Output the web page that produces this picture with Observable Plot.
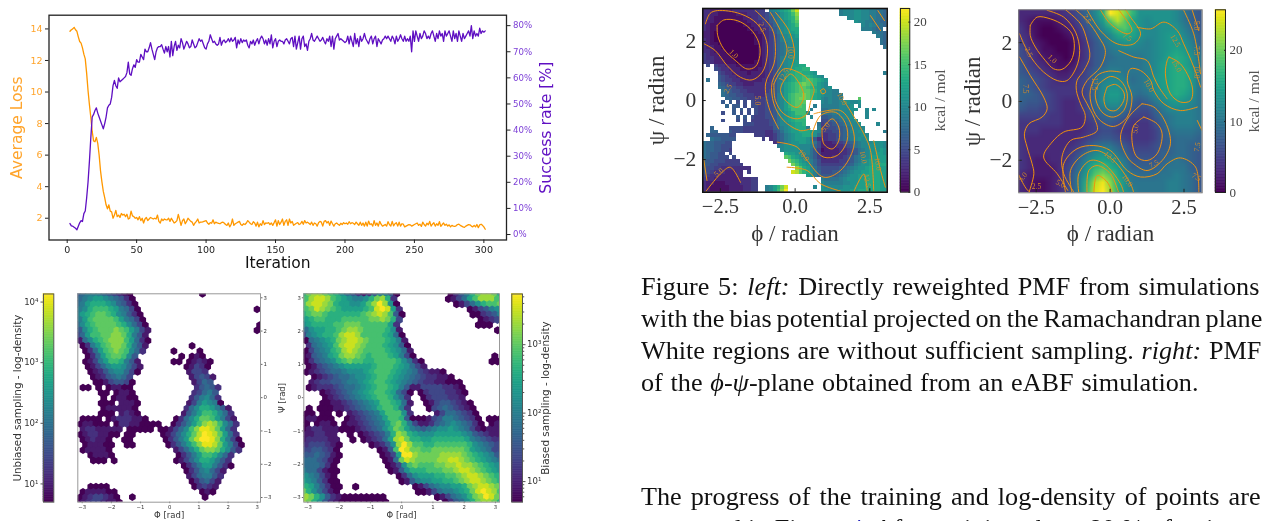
<!DOCTYPE html>
<html><head><meta charset="utf-8">
<script src="https://cdn.jsdelivr.net/npm/d3@7"></script>
<script src="https://cdn.jsdelivr.net/npm/@observablehq/plot@0.6"></script>
<style>
html,body{margin:0;padding:0;background:#fff}
#page{position:relative;width:1262px;height:521px;overflow:hidden;background:#fff;filter:blur(.35px)}
#page svg{position:absolute;max-width:none;background:transparent;overflow:visible}
#page g[aria-label="axis-title"] text{letter-spacing:1.4px}
.cap{position:absolute;left:641px;font:26.2px/32px "Liberation Serif",serif;color:#111;white-space:nowrap}
.cap a{color:#2222bb}
</style></head><body><div id="page"></div>
<script>
// ---------- training curves (iteration 2 .. 301) ----------
const lossValues = [
13.85,13.95,14.0,14.1,13.95,13.85,13.5,13.2,13.1,12.8,
12.4,12.1,11.2,10.1,9.2,8.4,7.5,6.9,6.85,7.12,
6.75,6.0,5.0,4.3,3.7,3.3,2.85,2.6,2.85,2.45,
2.4,2.0,2.2,2.5,2.1,2.2,2.05,2.3,2.2,2.25,
2.1,2.25,1.95,2.0,2.45,2.15,2.1,2.0,2.05,1.9,
2.1,1.85,2.0,1.7,1.95,2.05,1.85,1.95,2.05,2.0,
1.95,2.0,1.95,2.2,1.8,1.7,1.95,1.85,1.95,1.9,
1.9,2.0,1.8,2.0,1.85,1.7,1.75,1.85,2.25,1.9,
1.55,1.85,1.95,1.65,1.8,2.0,1.9,1.8,1.75,1.55,1.7,1.8,1.95,1.7,1.75,
1.75,1.78,1.82,1.85,1.7,1.62,1.72,1.68,1.9,1.65,1.75,1.7,1.68,1.65,1.72,
1.75,1.7,1.6,1.55,1.7,1.45,1.6,1.95,1.55,1.65,1.7,1.75,1.8,1.6,1.55,1.65,1.6,1.7,1.85,1.75,
1.65,1.6,1.78,1.7,1.5,1.75,1.45,1.65,1.55,1.85,1.6,1.7,1.68,1.72,1.6,1.7,1.55,1.72,1.9,1.5,
1.85,1.6,1.75,1.95,1.55,1.8,1.9,1.55,1.95,1.7,1.8,1.55,1.62,1.68,1.72,1.6,1.65,1.8,1.62,1.85,
1.7,1.75,1.68,1.6,1.75,1.55,1.7,1.65,1.5,1.72,1.8,1.75,1.5,1.8,1.85,1.7,1.8,1.55,1.82,1.65,
1.5,1.65,1.7,1.62,1.55,1.68,1.6,1.72,1.65,1.7,1.62,1.78,1.65,1.72,1.68,1.6,1.75,1.65,1.55,1.75,
1.55,1.7,1.5,1.75,1.5,1.82,1.6,1.65,1.5,1.85,1.55,1.7,1.5,1.8,1.62,1.5,1.55,1.6,1.5,1.78,
1.6,1.5,1.8,1.52,1.65,1.72,1.5,1.75,1.5,1.65,1.62,1.45,1.5,1.55,1.6,1.58,1.5,1.55,1.6,1.65,
1.7,1.55,1.62,1.48,1.75,1.6,1.5,1.68,1.58,1.8,1.5,1.62,1.72,1.5,1.65,1.55,1.78,1.48,1.6,1.7,
1.55,1.62,1.5,1.58,1.45,1.55,1.5,1.48,1.52,1.6,1.62,1.55,1.5,1.45,1.42,1.5,1.55,1.6,1.58,1.5,1.45,
1.55,1.45,1.6,1.4,1.58,1.62,1.55,1.45,1.3];
const successValues = [
4.2,3.3,3.2,2.8,2.4,1.8,3.2,4.5,5.3,5.0,
8.0,9.0,14,20,28,37,45,46,47.5,48.5,
46.5,45,43.5,42,40.5,42.5,45,48.5,49.5,50,
52.5,57,59,57,56,60,58.5,59,59.5,60,
60.5,62,66,61.5,61,63.5,65,64,67,66,
66,69,68,67,71,70,70,71.5,73.5,71,
69,67,70,71.5,72,72,72.7,71,69.5,72,
70,72,68,74,68.5,72,74,70.5,72.5,71.5,
75,73.5,71,72.5,74,73,71.5,72,74.5,73,71.5,72,73.5,75,74,
74.5,73,71.5,71,73,74,76.5,75,73.5,74,73,72.5,73,75.5,72.5,
74,74.5,73.5,74,75,73.8,75.3,74,74.5,75.5,71.5,74.5,73,75,73.5,74.5,74,74.5,72.5,71.5,
74,73,74.5,72.5,74,75,73,75,76,75,73,74.5,72.5,75,73,76.5,71.5,74,75,72,
74,74.5,74,74,73,74.5,75,74,73,75,75.5,72,76,71,73.5,76,71,75,76,72,
73,70.5,74,75,77,74.5,74,75,76,75,74,74.5,75.5,74,73,75,74,76,72,76,
71,75,76,77,74.5,75,74.5,74,73.5,74,76,73,76,74,72,77,73,75,72,76,
74,75,77,75,74,73,75,76,73,75,76,72,75,74,73,74.5,75,76,75,76,
75,74,76,75,73,76,74,75,
76.5,75,74,76,74,75,74,76,70,78,74,78,76,74,77,75,76,78,77,75,
76,75,77,78,76,74,77,75,78,76,77,74,78,76,77,
78,76,74,78,75,77,74,78,76,74,77,75,76,77,78,76,80,75,78,76,77,76,79,77,78,77.5,78];
const iterationTicks = [0,50,100,150,200,250,300];
const lossTicks = [2,4,6,8,10,12,14];
const successTicks = [0,10,20,30,40,50,60,70,80];

// ---------- hexbin log-density, rows top to bottom, '.' = empty bin ----------
const unbiasedRows = [
"45666543210.............0...........",
"56788765420.........................",
"568999875420........................",
"679aaa986530......................0.",
"689abba976420.......................",
"68abbbba86530.......................",
"579abbbba97530.....................0",
"479abbbcba8631....................0.",
"358aabbccb9641......................",
"1579abccca8520......................",
".0268abccb9641........0.............",
".0258abcba752.....0....0............",
"..0258abba74........0.010...........",
".01368aa9641......00.01210..........",
"..01357887531........01320..........",
"..0124677530.........1332...........",
"...01245653...........13431.........",
"...00134430...........1354..........",
".00.0.01100............24542........",
"....00.0110...........23564.........",
".....0.01100..........246752........",
"....000.1110.........1368760........",
".....0111110.........257998641......",
"....000.1210........1468aa9752......",
".0000.01222110.....02579bba8631.....",
"011000.022110000..02468acdca752.....",
".12211111.00000.001357aceedb852.....",
"01221100.00.....013579bdfedb852.....",
".012110..00......02468bdffec9630....",
".011100..00......02468aceedb8630....",
".011110............13579bccb9742....",
"..01110............02468aa9752......",
"...000.0...........01357998642......",
"....................0246886420......",
".....................02467531.......",
".....................1356642........",
"......................024531........",
"..0000................02321.........",
".0111100................010.........",
"01233210..0.............0...........",
"012332110..........................."];
const biasedRows = [
"9bccba975421246640.........02469bccb8",
"acddca9876679bc92.........01358accca",
"acddcb988778acec70..........013579aab",
"abdcba988889aded82............013467",
"9abba999999abcdca40............002346",
"89aa999aaaaabbcb93..............0123",
"789999aabbbaaaaa82..............000..",
"578899abccbaaaa971.................0",
"367899acddcaaaa9850",
"056789bcddcbaaa9861",
".25678acddcbaaa98740",
"035679acdcbaaaa98751",
"0145689bccba9aaa98630..............0.",
"0245679abaa99aaaa97520............00",
".0134567888889aaa987531",
"0123455677789aaa9876532110",
"..012345567789aa987654322110",
".123344566789aa98765432211000",
".0122234556789aa98641133332210",
"...0123456789aa98530.023332210",
"....0123456789aa9752..02333221",
"...00112345678aa9851..013443210",
".0.000112345679aa962...034543210",
"00.00.0.1234568aaa72....13554320",
"011000..01234568aa940001346654320.000",
"0.0110.011234568ab963112456765420.01",
"01221110001234579ba865456778765310111",
"112211..0.0123469cb98777888887643211",
"1222211..0.012358cdb99889999998654322",
"2333210.....01247cecaa99aaaaaa976543",
"3344320.......014afdbbaabbbbbba876533",
"4454310.......0138eecbbbbccccba98764",
"5554310........015bdcbbbbccddcba98765",
"555420.........0137abaaabbccdccba987",
"6553100.........0147999aaabbcddcba987",
"765310...........025788899aabcddcba9",
"8764200...........0146778899abcddcba9",
"9864200..0..........0135677889bcddcb",
"b975310..............0013566789bdedca",
"cb9742100000000.........0135679bcedb",
"cb97421000000000..........024579bccb9"];
const phiTicks = [-3,-2,-1,0,1,2,3];
const psiTicks = [-3,-2,-1,0,1,2,3];
const unbiasedDensityDomain = [5,13600];
const biasedDensityDomain = [5,5500];

// ---------- PMF (kcal/mol, base-36 integer per cell, '.' = no sampling) ----------
const pmfLeftRows = [
"33222222333333444.9abcdehk...........9aaabbaa99887",
"332211111222333445789bcdfi...........9aaabbaa99887",
"332111111112233445689bcdeh.............aabbaa99887",
"322110000111223344679abceg...............baa998877",
"321100000001122334579abcdf.................a9a9887",
"321100000000112233568abcdd.................999878",
"221000000000011223468abccd....................9887",
"2210000000000011234579abbc.....................987",
"3210000000000011234579aabb......................87",
"32110000000000112345789aab......................87",
"32211000000000012345789aab.......................8",
"33211100000000012345789aab........................",
"43221110000000012345789aab........................",
"4332211100000001234579aabb........................",
"4432221110000011234579abbc........................",
".5.4332221111111234579abccdd......................",
"...5433222111112234579abcddee.....................",
"....543322221222234589bcdeeddcb..................9",
"....654332222222234589bcdeefedcba.................",
".8..654433222222334689bcdeefgfedcb................",
"....76544332223334468acdefghgfecba................",
"....87655443333334468acdefggfedcbab...............",
".....8765544333334568acdefgggfecbaa99.............",
".....8766554443335569acefgghgfdcbaa999............",
"......776655444445569acefghhgfdca9a999....g.......",
".....6.6.5.5.54445569acefggg....a9a99abbaab.......",
"......7.66.5.55445569acefggf..9.99999aaab.a.......",
"........6.6.5.5445569acdffff.9..88999aaabb..a.a...",
".....5..6.5.5.5445569abcdfffa...88899aaab...a.....",
".........6.6.54445568abcdeef.a..667889aab...a.....",
".....5...5.5.44444568abcdeee....55677899ab........",
"...........5554444568aabcdde...845566789aab....a..",
"..7....555544444444679abcddd9..9445566789aaa......",
"..77...655544444433568abccdddcba44455678aabb.....9",
".76666655.....444334679abccddcb8334456789aaba.....",
"..8776666.......4.34679abcccb963334456789abab.....",
"87766655...........3579abbccba8522234456789aaabbba",
"87766555............9abbbbaaa97522223345689aabbbba",
"87766554.............abbbbaaa864122223345689abbbcb",
"876655.5..............dccbbaa864222223345689abbccb",
"8766555.5.............gfdcba986432233345689aabcccc",
"7665554444.............hfecba97533333445689abccccc",
"76554444444.............hfdcb9754444445679abbcdddd",
"7554433333333............igdca86555556789abbcdddcc",
"65433322233.4...........kjgedb9755566789abbccdddcc",
"54332222233.................cb976666789abbccddddcc",
"433222222233344.................988889abbbccddddcc",
"322111222233344.................a99999aabbccddddcc",
"321111122223344..9acehk.......a.baaaaabbbcccddddcc",
"321111122223344..9acfim.........bbaaabbbccddddddcc"];
const pmfRightRows = [
"3333334579cgqolhdddddca87",
"3211123468bejnjfdcdddca87",
"42100123579cfijgdccdddb97",
"43100012468acfgfdccdeeca8",
"532100013579bcddcbcdeedb8",
"643110013578abbbbbcdefec9",
"6532110135789aaaabcdfgfda",
"754321124578aaaaabcefgfda",
"76543223468abbaaabcefggea",
"87654334569bccb9abdefggea",
"87654444569cddcaabcefggea",
"88765444469ceeca9acdfgfda",
"87765433469cddb878acdedca",
"76655433468abb97668acccba",
"55554433357898755579abbba",
"44444433345776544468abbba",
"444333333456654444579aaa9",
"4333333345677654445789998",
"43333334579aa875556789988",
"433333457acdca86666889987",
"432233469cefeca777789a987",
"43222357aehigeb88889aaa87",
"32222358bfjljfca999aaba97",
"32112358chnplgdaaaaabba97",
"32112358cioqmgdbaaaabba97"];
const pmfTicksX = [-2.5,0,2.5];
const pmfTicksY = [-2,0,2];
const leftBarTicks = [0,5,10,15,20];
const rightBarTicks = [0,10,20];

// contour polylines [phi, psi]
const contoursLeft = [
[[-2.61,2.54],[-2.39,2.73],[-1.94,2.71],[-1.5,2.43],[-1.22,1.98],[-1.18,1.53],[-1.33,1.15],[-1.61,1.07],[-2,1.36],[-2.39,1.75],[-2.59,2.2],[-2.61,2.54]],
[[-3,2.6],[-2.85,2.95],[-2.6,3.05],[-1.83,2.94],[-1.27,2.6],[-.96,2.03],[-.94,1.47],[-1.1,.96],[-1.44,.7],[-1.83,.79],[-2.28,1.19],[-2.67,1.69],[-3.04,1.92]],
[[-1.33,3.05],[-.77,2.43],[-.66,1.81],[-.71,1.24],[-.99,.56],[-.88,-.23],[-.55,-.96]],
[[-.83,2.99],[-.49,2.37],[-.27,1.69],[-.44,1.24],[-.77,.62],[-.71,-.11],[-.38,-.68],[.18,-1.02],[.51,-.96]],
[[-.71,.56],[-.38,1.07],[.29,.85],[.63,.4],[.51,-.06],[.4,-.45],[.07,-.62],[-.38,-.45],[-.66,0],[-.71,.56]],
[[-.44,.56],[-.16,.9],[.18,.51],[.29,.11],[.07,-.23],[-.32,0],[-.49,.34],[-.44,.56]],
[[.9,-.96],[1.24,-.62],[1.46,-.9],[1.46,-1.36],[1.24,-1.64],[.96,-1.47],[.9,-.96]],
[[.57,-1.13],[.85,-.51],[1.35,-.4],[1.69,-.79],[1.74,-1.36],[1.41,-1.86],[.96,-1.92],[.63,-1.58],[.57,-1.13]],
[[-.6,-1.41],[.07,-1.58],[.4,-2.03],[.96,-2.6],[1.52,-2.37],[1.96,-1.58],[1.91,-.9],[1.52,-.34],[.63,-.45]],
[[1.63,0],[2.3,-1.13],[2.52,-1.69],[2.63,-3.05]],
[[2.63,-1.36],[2.86,-2.37],[3.02,-2.94]],
[[-.27,-2.26],[.4,-2.37],[.85,-2.82],[1.52,-3.07]],
[[1.96,-3.1],[2.3,-2.49],[2.41,-3.05]],
[[-3,-3.1],[-2.5,-2.49],[-2.17,-2.26],[-1.83,-2.77]],
[[-3.06,-1.98],[-2.95,-2.71]],
[[2.52,2.88],[2.86,2.37]],
[[2.77,3.05],[2.99,2.71]],
[[-.66,2.99],[-.21,2.37],[-.02,1.58],[-.16,1.02]],
[[.85,.34],[.96,.4],[1.02,.28],[.9,.23],[.85,.34]]];
const contoursRight = [
[[-2.7,2.59],[-2.47,2.87],[-2.02,2.81],[-1.57,2.59],[-1.29,2.3],[-1.21,1.85],[-1.32,1.39],[-1.63,1.09],[-1.91,1.11],[-2.19,1.39],[-2.53,1.85],[-2.7,2.24],[-2.7,2.59]],
[[-2.13,3.1],[-1.57,2.87],[-1.17,2.36],[-1.03,1.73],[-1.14,1.17],[-1.46,.71],[-1.79,.71],[-2.25,1],[-2.64,1.45],[-2.92,1.96],[-3.06,2.3]],
[[-1.51,3.12],[-1,2.64],[-.78,2.07],[-.69,1.51],[-.89,1.05],[-1.12,.71],[-1.14,.37],[-1,-.08],[-.84,-.48],[-.95,-.87],[-1.57,-1.04],[-1.96,-1.38],[-2.25,-1.89],[-1.79,-2.46],[-1.43,-3.03]],
[[-1.17,3.12],[-.78,2.76],[-.38,2.19],[-.16,1.73],[-.33,1.17],[-.78,.71],[-.95,.32],[-.78,-.08],[-.55,-.53],[-.44,-.99],[-.89,-1.21],[-1.34,-1.33],[-1.63,-1.89],[-1.57,-2.46],[-1.23,-3.08]],
[[2.95,-.19],[2.38,-.31],[1.82,-.08],[1.48,.37],[1.37,.71],[1.03,1.05],[.69,1.11],[.58,.71],[.74,.15],[.58,-.53],[.12,-.85],[-.33,-.65],[-.61,-.19],[-.67,.37],[-.44,.88],[-.05,1.03],[.35,1]],
[[-.1,.49],[.18,.58],[.46,.32],[.46,.03],[.18,-.31],[-.1,-.25],[-.21,.09],[-.1,.49]],
[[-.38,.6],[.01,.85],[.35,.71],[.58,.26],[.46,-.31],[.12,-.53],[-.21,-.42],[-.44,-.08],[-.5,.32],[-.38,.6]],
[[1.99,1.51],[2.38,1.28],[2.78,.49],[2.72,.03],[2.38,-.02],[2.04,.26],[1.87,.94],[1.93,1.39],[1.99,1.51]],
[[.29,1.73],[.8,1.51],[1.25,1.39],[1.48,.83],[1.65,.49],[1.93,.09]],
[[.91,2.53],[1.37,2.47],[1.82,2.7],[2.27,2.41],[2.49,1.96],[2.83,1.17],[3.06,.49]],
[[-.78,3.12],[-.33,2.41],[.24,1.96],[.8,1.96],[1.03,2.3],[.69,2.87],[.52,3.12]],
[[-.33,3.12],[.01,2.64],[.58,2.3],[.74,2.41],[.35,3.04],[.29,3.12]],
[[-1.51,-3.08],[-1.57,-2.12],[-1.12,-1.61],[-.55,-1.5],[.01,-1.67],[.58,-2.35],[1.03,-2.57],[1.59,-2.46],[1.93,-2.12],[2.38,-1.92],[2.89,-2.23],[3,-3.08]],
[[-1.29,-3.11],[-1.34,-2.35],[-.95,-1.84],[-.44,-1.67],[.12,-2.01],[.69,-2.8],[.8,-3.11]],
[[-1.06,-3.11],[-1.06,-2.46],[-.67,-2.01],[-.21,-2.12],[.35,-2.8],[.46,-3.11]],
[[-.78,-3.11],[-.72,-2.35],[-.44,-2.18],[.01,-2.46],[.29,-3.11]],
[[-.55,-3.11],[-.44,-2.52],[-.1,-2.74],[.07,-3.11]],
[[1.14,-.53],[1.59,-.76],[1.76,-1.1],[1.59,-1.78],[1.25,-2.01],[.91,-1.89],[.74,-1.33],[.8,-.82],[1.14,-.53]],
[[1.08,-.08],[.63,-.53],[.35,-1.21],[.58,-1.89],[.8,-2.12],[1.25,-2.35],[1.76,-2.01],[2.04,-1.44],[1.87,-.7],[1.48,-.19],[1.08,-.08]],
[[-3.06,1.51],[-2.7,.88],[-2.25,.15],[-2.13,-.25],[-2.3,-.53],[-2.75,-.76],[-2.9,-1.1],[-2.81,-1.55],[-2.64,-2.12],[-2.58,-2.46],[-2.75,-3.11]],
[[-3.09,-2.5],[-2.85,-2.95],[-2.7,-3.11]],
[[2.49,3.1],[2.83,2.3],[3.06,.94]],
[[2.78,3.1],[3,2.41]],
[[2.95,-.65],[3.11,-.99]]];
const contourLabelsLeft = [
["1.0",-2.05,1.58,45],["2.5",-1.1,2.49,70],["5.0",-1.27,0,90],["10.0",-.16,1.64,90],["12.5",-.38,.85,-60],
["5.0",1.02,-.9,-50],["10.0",1.57,.06,60],["10.0",2.28,-1.92,80],["10.0",2.77,-2.15,80],["12.5",2.41,-2.71,80],
["10.0",.29,-1.86,50],["5.0",-2.56,-2.43,-40],["2.5",-2.25,.4,-60]];
const contourLabelsRight = [
["1.0",-1.96,1.45,45],["2.5",-2.75,1.68,65],["7.5",-2.87,.43,90],["12.5",-.53,.6,90],["10.0",1.31,.54,60],
["5.0",.86,-.93,-80],["15.0",2.25,1.22,60],["12.5",2.21,2.07,60],["7.5",1.48,-2.12,-30],["7.5",2.92,1.73,90],
["5.0",2.92,2.58,90],["7.5",2.95,-1.55,-80],["7.5",2.92,-2.57,30],["5.0",-1.68,-2.8,30],["2.5",-2.49,-2.89,0],
["5.0",-2.95,-2.57,-50],["10.0",.58,-2.69,55],["12.5",0,-1.89,40],["7.5",.58,2.19,30],["10.0",2.92,1,90],["2.5",-.78,2.81,60]];

// ---------- helpers ----------
const page = document.getElementById("page");
const put = (svg,left,top)=>{svg.style.left=left+"px";svg.style.top=top+"px";page.append(svg);};
const SANS = '"DejaVu Sans",sans-serif', SERIF='"Liberation Serif",serif';
const ORANGE="#ff9800", ORANGE_T="#ffa42b", PURPLE="#5f0fc2", PURPLE_T="#7c3fd6";
const base36 = c => parseInt(c,36);

function hexCells(rows,cols,phi0,dPhi,psi0,dPsi,step){
  const out=[];
  rows.forEach((row,k)=>{[...row.padEnd(cols,".").slice(0,cols)].forEach((c,j)=>{
    if(c===".")return;
    out.push({phi:phi0+(j+(k%2?.5:0))*dPhi,psi:psi0-k*dPsi,density:5*Math.pow(10,base36(c)*step)});
  });});
  return out;
}
function gridValues(rows,n){
  const out=[];
  rows.forEach(r=>{[...r.padEnd(n,".").slice(0,n)].forEach(c=>out.push(c==="."?NaN:base36(c)));});
  return out;
}
const midText=(s,o)=>Plot.text([s],{text:d=>d,textAnchor:"middle",...o});
function colorbar(o){
  const [d0,d1]=o.domain, N=120;
  const lev=d3.range(N+1).map(i=>o.log?d0*Math.pow(d1/d0,i/N):d0+(d1-d0)*i/N);
  const bands=lev.slice(0,-1).map((v,i)=>({a:v,b:lev[i+1]}));
  return Plot.plot({
    width:o.w+o.ml+o.mr,height:o.h+o.mt+o.mb,marginLeft:o.ml,marginRight:o.mr,marginTop:o.mt,marginBottom:o.mb,
    style:{background:"transparent",overflow:"visible"},
    x:{domain:[0,1],axis:null},
    y:{type:o.log?"log":"linear",domain:o.domain,axis:null},
    color:{type:o.log?"log":"linear",domain:o.domain,scheme:"viridis"},
    marks:[
      Plot.rect(bands,{x1:0,x2:1,y1:"a",y2:"b",fill:"a",stroke:"a",strokeWidth:.6}),
      Plot.axisY(o.ticks,{anchor:o.anchor,tickSize:o.tick,tickPadding:o.pad,label:null,fontSize:o.fs,fontFamily:o.font,fill:o.tc||"#333",stroke:o.fc||"#333",tickFormat:o.fmt}),
      ...(o.minor?[Plot.axisY(o.minor,{anchor:o.anchor,tickSize:o.tick/2,label:null,stroke:o.fc||"#333",tickFormat:()=>""})]:[]),
      Plot.frame({stroke:o.fc||"#333",strokeWidth:o.fw||1}),
      midText(o.label,{frameAnchor:o.anchor,rotate:-90,dx:o.dx,fontFamily:o.font,fontSize:o.lfs,fill:o.lc||"#333"})
    ]});
}
const sup = k => "10"+"⁰¹²³⁴⁵⁶⁷⁸⁹"[k];
const decadeMinor=(lo,hi)=>{const m=[];for(let e=0;e<5;e++)for(let k=2;k<10;k++){const v=k*10**e;if(v>lo&&v<hi)m.push(v);}return m;};

// ---------- A: training curves ----------
const lossData = lossValues.map((v,i)=>({it:i+2,v}));
const succData = successValues.map((v,i)=>({it:i+2,v}));
const A = {width:570,height:280,marginLeft:48.5,marginRight:64,marginTop:14.7,marginBottom:40.5,style:{background:"transparent",overflow:"visible"},
  x:{domain:[-13.1,316.3],axis:null}};
put(Plot.plot({...A,y:{domain:[.62,14.87],axis:null},marks:[
  Plot.line(lossData,{x:"it",y:"v",stroke:ORANGE,strokeWidth:1.3}),
  Plot.axisX(iterationTicks,{label:null,tickSize:3.5,tickPadding:3,fontFamily:SANS,fontSize:9.5,fill:"#222",stroke:"#222"}),
  Plot.axisY(lossTicks,{label:null,tickSize:3.5,tickPadding:3,fontFamily:SANS,fontSize:9.5,fill:ORANGE_T,stroke:"#222"}),
  midText("Average Loss",{frameAnchor:"left",rotate:-90,dx:-31.5,fontFamily:SANS,fontSize:15.5,fill:ORANGE_T}),
  midText("Iteration",{frameAnchor:"bottom",dy:27.5,fontFamily:SANS,fontSize:15.5,fill:"#111"})
]}),0,0);
put(Plot.plot({...A,y:{domain:[-2.1,84],axis:null},marks:[
  Plot.line(succData,{x:"it",y:"v",stroke:PURPLE,strokeWidth:1.3}),
  Plot.axisY(successTicks,{anchor:"right",label:null,tickSize:3.5,tickPadding:3,fontFamily:SANS,fontSize:8.6,fill:PURPLE_T,stroke:"#222",tickFormat:d=>d+"%"}),
  Plot.frame({stroke:"#222",strokeWidth:1.3}),
  midText("Success rate [%]",{frameAnchor:"right",rotate:-90,dx:39,fontFamily:SANS,fontSize:15.7,fill:PURPLE})
]}),0,0);

// ---------- C: unbiased hexbin ----------
const hexTick = {label:null,tickSize:1.5,tickPadding:1.5,fontFamily:SANS,fontSize:5.4,fill:"#333",stroke:"#666"};
put(Plot.plot({width:182.7+77.3+30,height:208.4+293.3+20,marginLeft:77.3,marginRight:30,marginTop:293.3,marginBottom:20,
  style:{background:"transparent",overflow:"visible"},
  x:{domain:[-3.15,3.11],axis:null},y:{domain:[-3.14,3.12],axis:null},
  color:{type:"log",domain:unbiasedDensityDomain,scheme:"viridis"},
  marks:[
    Plot.dot(hexCells(unbiasedRows,36,-3.15,.178,3.12,.1566,.235),{x:"phi",y:"psi",fill:"density",symbol:"hexagon",r:3.35,clip:true}),
    Plot.axisX(phiTicks,hexTick),Plot.axisY(psiTicks,{...hexTick,anchor:"right"}),
    Plot.frame({stroke:"#999",strokeWidth:1}),
    midText("Φ [rad]",{frameAnchor:"bottom",dy:16,fontFamily:SANS,fontSize:8.5,fill:"#333"})
  ]}),0,0);
put(colorbar({domain:unbiasedDensityDomain,log:true,w:10.3,h:208.2,ml:43,mr:5,mt:293.5,mb:19,ticks:[10,100,1000,10000],minor:null,
  anchor:"left",tick:2.5,pad:2.5,fs:8.6,font:SANS,fmt:d=>sup(Math.round(Math.log10(d))),label:"Unbiased sampling - log-density",dx:-26,lfs:10.4,fc:"#555"}),0,0);

// ---------- D: biased hexbin ----------
put(Plot.plot({width:195.7+303.3+30,height:208.4+293.3+20,marginLeft:303.3,marginRight:30,marginTop:293.3,marginBottom:20,
  style:{background:"transparent",overflow:"visible"},
  x:{domain:[-3.13,3.13],axis:null},y:{domain:[-3.14,3.12],axis:null},
  color:{type:"log",domain:biasedDensityDomain,scheme:"viridis"},
  marks:[
    Plot.dot(hexCells(biasedRows,37,-3.13,.1746,3.12,.1566,.215),{x:"phi",y:"psi",fill:"density",symbol:"hexagon",r:3.5,clip:true}),
    Plot.axisX(phiTicks,hexTick),Plot.axisY(psiTicks,hexTick),
    Plot.frame({stroke:"#999",strokeWidth:1}),
    midText("Φ [rad]",{frameAnchor:"bottom",dy:16,fontFamily:SANS,fontSize:8.5,fill:"#333"}),
    midText("Ψ [rad]",{frameAnchor:"left",rotate:-90,dx:-21.5,fontFamily:SANS,fontSize:8.5,fill:"#333"})
  ]}),0,0);
put(colorbar({domain:biasedDensityDomain,log:true,w:10.7,h:208.2,ml:511.3,mr:30,mt:293.5,mb:19,ticks:[10,100,1000],minor:decadeMinor(5,5500),
  anchor:"right",tick:2.5,pad:2,fs:8.6,font:SANS,fmt:d=>sup(Math.round(Math.log10(d))),label:"Biased sampling - log-density",dx:23,lfs:10.4,fc:"#555"}),0,0);

// ---------- E / F: PMF maps ----------
function pmf(o){
  const lines=o.contours.flatMap((c,id)=>c.map(([x,y])=>({x,y,id})));
  const labels=o.labels.map(([t,x,y,r])=>({t,x,y,r}));
  return Plot.plot({width:o.left+o.w+40,height:o.top+o.h+50,marginLeft:o.left,marginRight:40,marginTop:o.top,marginBottom:50,
    style:{background:"transparent",overflow:"visible"},
    x:{domain:o.xd,axis:null},y:{domain:o.yd,axis:null},
    color:{domain:o.cd,scheme:"viridis"},
    marks:[
      Plot.raster(o.values,{width:o.n,height:o.n,x1:o.x1,x2:o.x2,y1:o.y1,y2:o.y2,fill:d=>d,imageRendering:o.pixel?"pixelated":"auto",clip:true}),
      Plot.line(lines,{x:"x",y:"y",z:"id",curve:"catmull-rom",stroke:"#f0920e",strokeWidth:1,clip:true}),
      Plot.text(labels,{x:"x",y:"y",text:"t",rotate:"r",fontFamily:SERIF,fontSize:7.5,fill:"#d08a2a",clip:true}),
      Plot.axisX(pmfTicksX,{label:null,tickSize:-3.5,tickPadding:10,fontFamily:SERIF,fontSize:20.5,fill:"#333",stroke:"#222",tickFormat:d3.format(".1f"),lineAnchor:"top"}),
      Plot.axisY(pmfTicksY,{label:null,tickSize:-3.5,tickPadding:10,fontFamily:SERIF,fontSize:21.5,fill:"#333",stroke:"#222"}),
      Plot.frame({stroke:o.fc,strokeWidth:o.fw}),
      midText("ϕ / radian",{ariaLabel:"axis-title",frameAnchor:"bottom",dy:o.xlabelDy,fontFamily:SERIF,fontSize:23,fill:"#333",lineAnchor:"middle"}),
      midText("ψ / radian",{ariaLabel:"axis-title",frameAnchor:"left",rotate:-90,dx:o.ylabelDx,fontFamily:SERIF,fontSize:23,fill:"#333"})
    ]});
}
put(pmf({left:702.3,top:8,w:184.4,h:183.7,xd:[-3.09,3.08],yd:[-3.107,3.12],cd:[0,21.6],n:50,pixel:true,
  x1:-3.09,x2:3.08,y1:3.12,y2:-3.107,values:gridValues(pmfLeftRows,50),contours:contoursLeft,labels:contourLabelsLeft,
  fc:"#111",fw:1.6,xlabelDy:41,ylabelDx:-46.5}),0,0);
put(pmf({left:1018.3,top:9.3,w:183.4,h:183,xd:[-3.09,3.115],yd:[-3.107,3.118],cd:[0,25.7],n:25,pixel:false,
  x1:-3.125,x2:3.125,y1:3.125,y2:-3.125,values:gridValues(pmfRightRows,25),contours:contoursRight,labels:contourLabelsRight,
  fc:"#777",fw:1,xlabelDy:41,ylabelDx:-46.5}),0,0);
put(colorbar({domain:[0,21.6],log:false,w:9.3,h:183.7,ml:900,mr:40,mt:8,mb:40,ticks:leftBarTicks,anchor:"right",tick:-2,pad:6,fs:13,font:SERIF,
  label:"kcal / mol",dx:30,lfs:15.5,fc:"#222",tc:"#444",lc:"#555"}),0,0);
put(colorbar({domain:[0,25.7],log:false,w:10,h:182.7,ml:1215,mr:40,mt:9.3,mb:40,ticks:rightBarTicks,anchor:"right",tick:-2,pad:6,fs:13,font:SERIF,
  label:"kcal / mol",dx:29,lfs:15.5,fc:"#222",tc:"#444",lc:"#555"}),0,0);

// ---------- caption text ----------
const capLines=[
 [271,'Figure 5: <i>left:</i> Directly reweighted PMF from simulations',2.2],
 [303,'with the bias potential projected on the Ramachandran plane.',-1.6],
 [335,'White regions are without sufficient sampling. <i>right:</i> PMF',1.2],
 [367,'of the <i>ϕ</i>-<i>ψ</i>-plane obtained from an eABF simulation.',1.2],
 [481,'The progress of the training and log-density of points are',2.5],
 [513,'presented in Figure <a>4</a>. After training about 80 % of trajectories',0]];
capLines.forEach(([top,html,ws])=>{const d=document.createElement("div");d.className="cap";d.style.top=top+"px";d.style.wordSpacing=ws+"px";d.innerHTML=html;page.append(d);});
</script></body></html>
